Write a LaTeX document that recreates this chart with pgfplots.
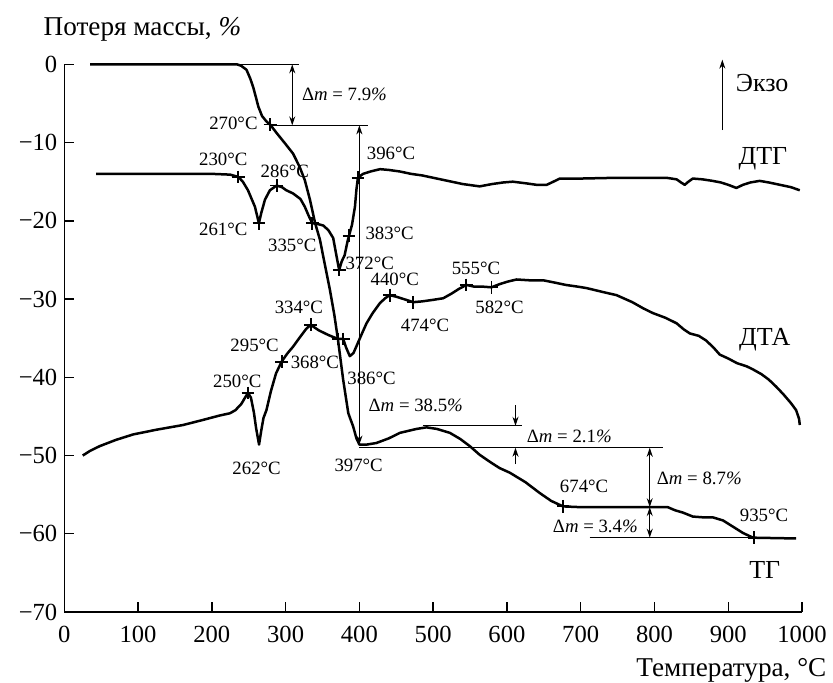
\documentclass[border=0pt]{standalone}
\usepackage{fontspec}
\setmainfont{Liberation Serif}
\usepackage{pgfplots}
\pgfplotsset{compat=1.18}
\usetikzlibrary{arrows.meta}
\newcommand{\pc}{\textit{\%}}
\tikzset{
  tl/.style={font=\fontsize{9.4}{11}\selectfont, inner sep=0pt},
  dl/.style={font=\fontsize{9.4}{11}\selectfont, inner sep=0pt, anchor=west},
  bl/.style={font=\fontsize{13}{15}\selectfont, inner sep=0pt},
  thinl/.style={line width=0.6pt},
  arr/.style={line width=0.6pt, -{Stealth[length=4.5pt,width=3pt]}},
  darr/.style={line width=0.6pt, {Stealth[length=4.5pt,width=3pt]}-{Stealth[length=4.5pt,width=3pt]}},
}
\begin{document}
\begin{tikzpicture}
\useasboundingbox (-32.15pt,-35pt) rectangle (384.35pt,306pt);
\begin{axis}[
  at={(0,0)}, anchor=south west,
  scale only axis, width=368.85pt, height=273.85pt,
  xmin=0, xmax=1000, ymin=-70, ymax=0,
  axis x line=bottom, axis y line=left,
  axis line style={-, line width=0.7pt},
  tick align=inside, major tick length=4.8pt,
  tick style={line width=0.7pt, black},
  xtick={0,100,200,300,400,500,600,700,800,900,1000},
  xticklabels={0,100,200,300,400,500,600,700,800,900,1000},
  ytick={-70,-60,-50,-40,-30,-20,-10,0},
  yticklabels={−70,−60,−50,−40,−30,−20,−10,0},
  ticklabel style={font=\fontsize{12.3}{14}\selectfont},
  xticklabel style={yshift=-3.3pt},
  clip=false,
  every axis plot/.append style={black},
]
% TG
\addplot[line width=1.25pt, line join=round] coordinates {
(35,0) (234,0) (240,-0.2) (247,-0.7) (252,-1.8) (256,-2.9) (260,-4.3) (263,-5.4) (268,-6.6) (274,-7.3) (279,-7.7) (288,-8.8) (300,-10.2) (310,-11.4) (319,-13.1) (326,-14.8) (333,-17.3) (340,-20.3) (346.5,-22.4) (353,-25.5) (360,-28.8) (366,-32) (371,-35.2) (378,-40.3) (385,-44.6) (391.6,-46.3) (396,-47.8) (400,-48.6) (410,-48.6) (423,-48.4) (440,-47.8) (455,-47.1) (477.5,-46.6) (491,-46.4) (505,-46.6) (522.6,-47.1) (537,-47.9) (549.7,-48.8) (563,-49.9) (576.8,-50.8) (590,-51.6) (604,-52.2) (625,-53.4) (644.6,-54.8) (660,-55.8) (676,-56.5) (700,-56.6) (818,-56.6) (828,-57.0) (838.8,-57.3) (852,-57.8) (866,-57.9) (879,-57.9) (893,-58.3) (906.5,-59.1) (920,-59.9) (933.6,-60.5) (992,-60.6)
};
% DTG
\addplot[line width=1.25pt, line join=round] coordinates {
(43,-14.0) (200,-14.0) (225,-14.1) (236,-14.4) (242,-15.0) (249,-16.1) (258.4,-18.2) (263.8,-20.3) (267,-19) (272,-17.3) (278.7,-16.1) (287.8,-15.5) (295,-15.7) (301,-16.1) (310,-16.5) (320,-17.2) (326,-18.2) (331,-19.3) (336,-20.3) (343,-20.4) (351,-20.6) (358,-21.2) (364.5,-22.2) (368,-24) (372.6,-26.3) (376,-25.2) (380,-24.4) (384,-22.6) (386,-21.9) (390,-20.5) (394,-18.2) (396,-16) (398,-14.5) (405,-14.0) (415,-13.7) (428,-13.4) (440,-13.5) (455,-13.7) (470,-14.0) (485,-14.2) (500,-14.5) (520,-14.9) (540,-15.3) (563,-15.6) (580,-15.3) (595,-15.1) (608,-15.0) (625,-15.2) (640,-15.4) (654,-15.4) (663,-15.0) (671.7,-14.6) (700,-14.6) (750,-14.5) (816,-14.5) (830,-14.7) (836,-15.1) (841,-15.4) (846,-15.0) (852,-14.6) (865,-14.7) (879,-14.9) (890,-15.1) (900,-15.4) (911,-15.8) (920,-15.4) (930,-15.1) (942.6,-14.9) (955,-15.1) (970,-15.4) (985,-15.7) (997,-16.1)
};
% DTA
\addplot[line width=1.25pt, line join=round] coordinates {
(25,-50.0) (35,-49.4) (48,-48.8) (70,-48.0) (93.5,-47.3) (125,-46.7) (161,-46.1) (190,-45.4) (210,-44.9) (224.5,-44.6) (232,-44.2) (240,-43.4) (245,-42.6) (249,-42.0) (253,-42.6) (257,-44.5) (260,-46.5) (264,-48.6) (267,-46.8) (270,-45.2) (274,-44.2) (280,-41.8) (287,-39.5) (294.6,-38.0) (302,-37.0) (310,-36.1) (320,-34.8) (328,-33.8) (334,-33.3) (345,-34.0) (358,-34.6) (371,-35.1) (378,-35.1) (382,-36.2) (387,-37.3) (392,-36.9) (398,-35.6) (404,-34.3) (409.7,-33.1) (418,-31.8) (428,-30.5) (435,-29.9) (441,-29.5) (450,-29.7) (460,-30.0) (473,-30.4) (485,-30.3) (500,-30.1) (513.6,-29.9) (525,-29.3) (535,-28.7) (545,-28.2) (555,-28.4) (565,-28.4) (579,-28.5) (590,-28.1) (600,-27.8) (613,-27.5) (630,-27.6) (649,-27.6) (665,-27.9) (680,-28.2) (695,-28.4) (708,-28.6) (730,-29.1) (748.5,-29.5) (770,-30.4) (785,-31.2) (798,-31.8) (815,-32.4) (830,-33.1) (840,-33.9) (848,-34.4) (860,-34.7) (870,-35.3) (880,-36.2) (888.5,-37.1) (900,-37.6) (912,-38.2) (925,-38.6) (933.6,-39.0) (945,-39.6) (955,-40.3) (965,-41.2) (975,-42.2) (985,-43.3) (992,-44.2) (996,-45.3) (997,-46.1)
};
% cross marks
\addplot[only marks, mark=+, mark size=3.2pt, line width=0.9pt] coordinates {
(279,-7.7) (676,-56.5) (935,-60.5)
(236,-14.4) (287.8,-15.5) (263.8,-20.3) (336,-20.3) (372.6,-26.3) (386,-21.9) (398,-14.5)
(249,-42.0) (294.6,-38.0) (334,-33.3) (371,-35.1) (378,-35.1) (441,-29.5) (473,-30.4) (545,-28.2) (579,-28.5)
};
% thin helper lines
\addplot[thinl] coordinates {(234,0) (318,0)};
\addplot[thinl] coordinates {(279,-7.8) (412,-7.8)};
\addplot[thinl] coordinates {(400,-49.0) (812,-49.0)};
\addplot[thinl] coordinates {(486,-46.2) (620,-46.2)};
\addplot[thinl] coordinates {(712,-60.5) (992,-60.5)};
% arrows
\addplot[darr] coordinates {(309,0) (309,-7.8)};
\addplot[darr] coordinates {(400,-7.8) (400,-48.6)};
\addplot[arr] coordinates {(611.6,-43.6) (611.6,-46.2)};
\addplot[arr] coordinates {(611.6,-51.1) (611.6,-49.0)};
\addplot[darr] coordinates {(793.6,-49.0) (793.6,-56.6)};
\addplot[darr] coordinates {(793.6,-56.6) (793.6,-60.5)};
\addplot[arr] coordinates {(892,-8.4) (892,0.6)};
% labels
\node[tl, anchor=west] at (axis cs:321.7,-3.9) {Δ\textit{m} = 7.9\pc};
\node[tl, anchor=east] at (axis cs:262.5,-7.6) {270°C};
\node[tl, anchor=west] at (axis cs:409.7,-11.4) {396°C};
\node[tl] at (axis cs:215.5,-12.2) {230°C};
\node[tl] at (axis cs:299,-13.7) {286°C};
\node[tl] at (axis cs:215.5,-21.1) {261°C};
\node[tl] at (axis cs:309,-23.2) {335°C};
\node[tl] at (axis cs:441,-21.6) {383°C};
\node[tl] at (axis cs:414,-25.4) {372°C};
\node[tl] at (axis cs:448,-27.5) {440°C};
\node[tl] at (axis cs:318,-31.1) {334°C};
\node[tl] at (axis cs:258,-35.9) {295°C};
\node[tl] at (axis cs:339.7,-38.1) {368°C};
\node[tl] at (axis cs:234.5,-40.5) {250°C};
\node[tl] at (axis cs:416.5,-40.1) {386°C};
\node[tl] at (axis cs:260.7,-51.7) {262°C};
\node[tl] at (axis cs:399,-51.3) {397°C};
\node[tl] at (axis cs:489,-33.4) {474°C};
\node[tl] at (axis cs:558,-26.1) {555°C};
\node[tl] at (axis cs:590,-31.0) {582°C};
\node[tl] at (axis cs:704.6,-53.9) {674°C};
\node[tl] at (axis cs:948.5,-57.6) {935°C};
\node[dl] at (axis cs:412,-43.6) {Δ\textit{m} = 38.5\pc};
\node[dl] at (axis cs:626.5,-47.6) {Δ\textit{m} = 2.1\pc};
\node[dl] at (axis cs:802.7,-52.9) {Δ\textit{m} = 8.7\pc};
\node[dl] at (axis cs:661.8,-59.0) {Δ\textit{m} = 3.4\pc};
\node[bl] at (axis cs:946,-2.4) {Экзо};
\node[bl] at (axis cs:947,-12.1) {ДТГ};
\node[bl] at (axis cs:949.5,-35.2) {ДТА};
\node[bl] at (axis cs:949.5,-64.6) {ТГ};
\node[font=\fontsize{13.6}{16}\selectfont, inner sep=0pt, anchor=base west] at (axis cs:-28.5,3.74) {Потеря массы, \pc};
\node[font=\fontsize{13.6}{16}\selectfont, inner sep=0pt, anchor=base east] at (axis cs:1033.5,-78.2) {Температура, °C};
\end{axis}
\end{tikzpicture}
\end{document}
